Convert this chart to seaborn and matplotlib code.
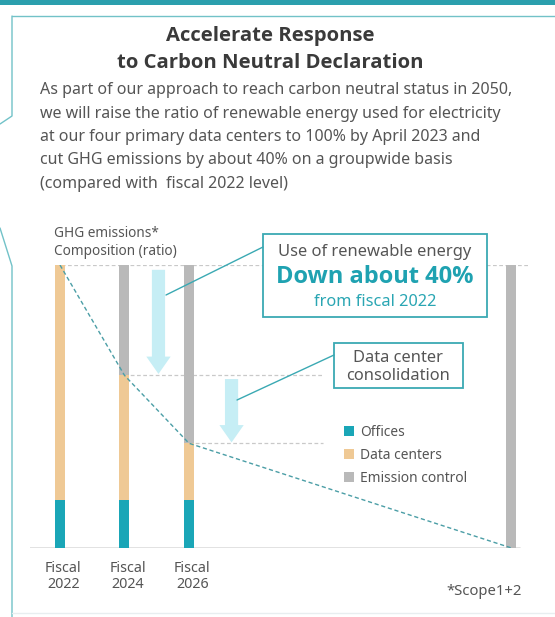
import matplotlib
matplotlib.use("Agg")
import matplotlib.pyplot as plt
import seaborn as sns
import numpy as np
import pandas as pd
from matplotlib.patches import Rectangle, Patch

# ---------------- data ----------------
periods = ["Fiscal\n2022", "Fiscal\n2024", "Fiscal\n2026", ""]
positions = [0, 1, 2, 7]
offices = [17, 17, 17, 0]
data_centers = [83, 44, 20, 0]
emission_control = [0, 39, 63, 100]
legend_labels = ["Offices", "Data centers", "Emission control"]

title_lines = ["Accelerate Response", "to Carbon Neutral Declaration"]
body_lines = [
    "As part of our approach to reach carbon neutral status in 2050,",
    "we will raise the ratio of renewable energy used for electricity",
    "at our four primary data centers to 100% by April 2023 and",
    "cut GHG emissions by about 40% on a groupwide basis",
    "(compared with  fiscal 2022 level)",
]

# ---------------- style ----------------
sns.set_theme(style="white")
plt.rcParams["font.family"] = ["Noto Sans", "DejaVu Sans"]
BOLD_FAMILY = ["Open Sans", "DejaVu Sans"]

C_OFF = "#1aa6b7"
C_DC = "#efc995"
C_CTRL = "#b9b9b9"
C_TEAL = "#3aa9b3"
C_FRAME = "#72c2c8"
C_TXT = "#555555"
C_ARROW = "#c6eef5"

W, H = 555, 617
fig = plt.figure(figsize=(W / 100, H / 100), dpi=100)
fig.patch.set_facecolor("white")

# main chart axes: x from 30px to 530px, y from 548px (0) to 265px (100)
ax = fig.add_axes([30 / W, 1 - 548 / H, 500 / W, 283 / H])
ax.set_facecolor("none")

df = pd.DataFrame({
    "pos": positions,
    "total": np.array(offices) + np.array(data_centers) + np.array(emission_control),
    "emis": np.array(offices) + np.array(data_centers),
    "off": offices,
})

bw = 0.155
sns.barplot(data=df, x="pos", y="total", native_scale=True, width=bw, color=C_CTRL,
            saturation=1, errorbar=None, linewidth=0, ax=ax, zorder=2)
sns.barplot(data=df, x="pos", y="emis", native_scale=True, width=bw, color=C_DC,
            saturation=1, errorbar=None, linewidth=0, ax=ax, zorder=3)
sns.barplot(data=df, x="pos", y="off", native_scale=True, width=bw, color=C_OFF,
            saturation=1, errorbar=None, linewidth=0, ax=ax, zorder=4)

# emission trend (dashed)
sns.lineplot(data=df, x="pos", y="emis", color="#4b9ea6", lw=1.0,
             linestyle=(0, (3, 2)), ax=ax, zorder=5)

xmin, xmax = -0.465, 7.287
ax.set_xlim(xmin, xmax)
ax.set_ylim(0, 100)

# reference dashed lines
ref = "#c9c9c9"
ax.hlines(df["total"].iloc[0], -0.08, xmax, colors=ref, lw=0.9, linestyles=(0, (3, 2)), zorder=1)
ax.hlines(df["emis"].iloc[1], positions[1], 4.06, colors=ref, lw=0.9, linestyles=(0, (3, 2)), zorder=1)
ax.hlines(df["emis"].iloc[2], positions[2], 4.08, colors=ref, lw=0.9, linestyles=(0, (3, 2)), zorder=1)
# baseline
ax.axhline(0, xmin=0, xmax=0.98, color="#dddddd", lw=1.2, zorder=1)

# arrows (light blue, pointing down)
arrowstyle = "simple,head_width=1.75,head_length=1.25,tail_width=0.95"
ax.annotate("", xy=(1.527, df["emis"].iloc[1] + 0.5), xytext=(1.527, 98.3),
            arrowprops=dict(arrowstyle=arrowstyle, color=C_ARROW, lw=0,
                            shrinkA=0, shrinkB=0, mutation_scale=10), zorder=1)
ax.annotate("", xy=(2.66, df["emis"].iloc[2] + 0.3), xytext=(2.66, df["emis"].iloc[1] - 1.3),
            arrowprops=dict(arrowstyle=arrowstyle, color=C_ARROW, lw=0,
                            shrinkA=0, shrinkB=0, mutation_scale=10), zorder=1)

# x tick labels
ax.set_xticks([p + 0.05 for p in positions[:3]])
ax.set_xticklabels(periods[:3], fontsize=10.3, color=C_TXT, linespacing=1.12)
ax.tick_params(axis="x", length=0, pad=9)
ax.set_yticks([])
ax.set_xlabel("")
ax.set_ylabel("")
sns.despine(ax=ax, left=True, bottom=True)
for s in ax.spines.values():
    s.set_visible(False)

# legend
handles = [Patch(facecolor=c, edgecolor="none") for c in (C_OFF, C_DC, C_CTRL)]
leg = ax.legend(handles, legend_labels, loc="upper left",
                bbox_to_anchor=(344 / W, 1 - 425 / H), bbox_transform=fig.transFigure,
                frameon=False, fontsize=9.9, handlelength=0.72, handleheight=0.72,
                handletextpad=0.42, labelspacing=0.58, borderpad=0, borderaxespad=0)
for t in leg.get_texts():
    t.set_color(C_TXT)

# ---------------- overlay (pixel coordinates) ----------------
ov = fig.add_axes([0, 0, 1, 1], zorder=10)
ov.set_xlim(0, W)
ov.set_ylim(H, 0)
ov.axis("off")
ov.patch.set_alpha(0)

# frame decorations
ov.add_patch(Rectangle((0, 0), W, 4.5, facecolor="#2b9fad", edgecolor="none"))
ov.plot([12, W], [16, 16], color=C_FRAME, lw=1.0)
ov.plot([12, 12, 0], [16, 116, 124], color=C_FRAME, lw=1.0)
ov.plot([0, 12, 12], [228, 266, 617], color=C_FRAME, lw=1.0)
ov.plot([12, W], [613, 613], color="#e8eef0", lw=1.0)

# title + body
ov.text(270, 41, title_lines[0], ha="center", va="baseline", fontsize=14.6,
        fontweight="bold", color="#3a3a3a", family=BOLD_FAMILY)
ov.text(270, 68, title_lines[1], ha="center", va="baseline", fontsize=14.6,
        fontweight="bold", color="#3a3a3a", family=BOLD_FAMILY)
for i, line in enumerate(body_lines):
    ov.text(40, 94.5 + i * 23.3, line, ha="left", va="baseline", fontsize=11.5, color=C_TXT)

# y label
ov.text(54, 237, "GHG emissions*", ha="left", va="baseline", fontsize=9.8, color=C_TXT)
ov.text(54, 255, "Composition (ratio)", ha="left", va="baseline", fontsize=9.8, color=C_TXT)

# annotation box 1
ov.plot([263, 166], [247, 295], color=C_TEAL, lw=1.0)
ov.add_patch(Rectangle((263, 234), 224, 83, facecolor="white", edgecolor=C_TEAL, lw=1.3))
ov.text(375, 256, "Use of renewable energy", ha="center", va="baseline", fontsize=11.9, color=C_TXT)
ov.text(375, 283, "Down about 40%", ha="center", va="baseline", fontsize=17,
        fontweight="bold", color="#1fa2b1", family=BOLD_FAMILY)
ov.text(375, 306, "from fiscal 2022", ha="center", va="baseline", fontsize=11.8, color="#2aa6b3")

# annotation box 2
ov.plot([334, 237], [355, 400], color=C_TEAL, lw=1.0)
ov.add_patch(Rectangle((334, 343), 129, 45, facecolor="white", edgecolor=C_TEAL, lw=1.3))
ov.text(398, 362, "Data center", ha="center", va="baseline", fontsize=11.8, color=C_TXT)
ov.text(398, 380, "consolidation", ha="center", va="baseline", fontsize=11.8, color=C_TXT)

# footnote
ov.text(522, 595, "*Scope1+2", ha="right", va="baseline", fontsize=10.7, color=C_TXT)

fig.savefig("out.png", dpi=100)
